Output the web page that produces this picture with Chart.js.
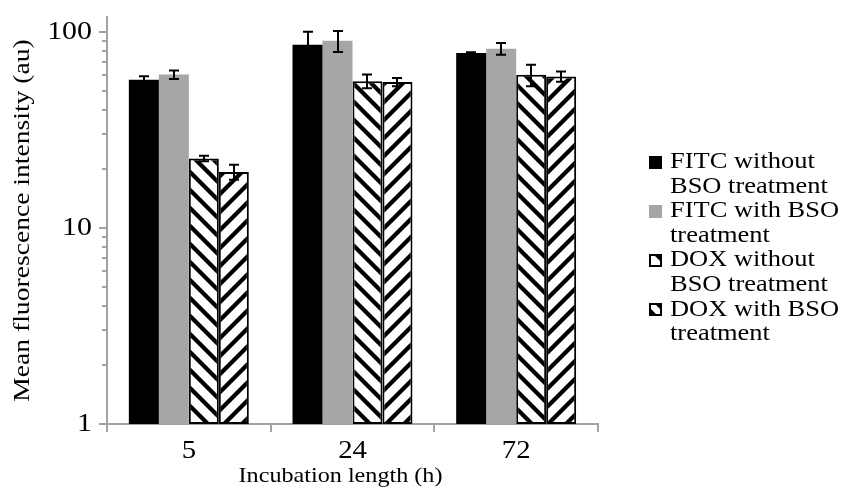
<!DOCTYPE html>
<html>
<head>
<meta charset="utf-8">
<script src="https://cdn.jsdelivr.net/npm/chart.js@4/dist/chart.umd.min.js"></script>
<style>
  html, body { margin: 0; padding: 0; background: #fff; }
  #wrap { width: 842px; height: 494px; position: relative; }
</style>
</head>
<body>
<div id="wrap"><canvas id="c" width="842" height="494"></canvas></div>
<script>
// Incubation times (h)
const categories = ['5', '24', '72'];
const xTitle = 'Incubation length (h)';
const yTitle = 'Mean fluorescence intensity (au)';

// Series names, and how each one wraps in the legend
const seriesNames = [
  'FITC without BSO treatment',
  'FITC with BSO treatment',
  'DOX without BSO treatment',
  'DOX with BSO treatment'
];
const legendLines = [
  ['FITC without', 'BSO treatment'],
  ['FITC with BSO', 'treatment'],
  ['DOX without', 'BSO treatment'],
  ['DOX with BSO', 'treatment']
];

// Mean fluorescence intensity (au) and error (±)
const fitcWithout    = [57, 86, 78];
const fitcWithoutErr = [2.4, 14, 0.7];
const fitcWith       = [60.5, 90, 82];
const fitcWithErr    = [3, 11, 5.6];
const doxWithout     = [22.6, 56, 60.4];
const doxWithoutErr  = [0.7, 4.5, 7.6];
const doxWith        = [19.3, 55.5, 59.2];
const doxWithErr     = [1.7, 2.7, 3.5];

// Log axis: labelled decades and unlabelled minor ticks
const yTickValues  = [1, 10, 100];
const yMinorValues = [2, 3, 4, 5, 6, 7, 8, 9, 20, 30, 40, 50, 60, 70, 80, 90];

const FONT = 'Liberation Serif, Times New Roman, serif';
const AXIS_GREY = '#a3a3a3';
// Type is set slightly wide along its baseline
const TEXT_STRETCH = 1.15;

function widenText(ctx) {
  const nativeFill = ctx.fillText;
  ctx.fillText = function (text, x, y, maxWidth) {
    this.save();
    this.translate(x, y);
    this.scale(TEXT_STRETCH, 1);
    if (maxWidth === undefined || maxWidth === null) nativeFill.call(this, text, 0, 0);
    else nativeFill.call(this, text, 0, 0, maxWidth / TEXT_STRETCH);
    this.restore();
  };
}

function stripePattern(dir, size, width) {
  const c = document.createElement('canvas');
  c.width = size; c.height = size;
  const g = c.getContext('2d');
  g.fillStyle = '#fff';
  g.fillRect(0, 0, size, size);
  g.strokeStyle = '#000';
  g.lineWidth = width;
  for (const o of [-size, 0, size]) {
    g.beginPath();
    if (dir === 'back') { g.moveTo(o - 3, -3); g.lineTo(o + size + 3, size + 3); }
    else { g.moveTo(o - 3, size + 3); g.lineTo(o + size + 3, -3); }
    g.stroke();
  }
  return g.createPattern(c, 'repeat');
}

const patBack = stripePattern('back', 18, 4.2);
const patFwd  = stripePattern('fwd', 18, 4.2);

const datasets = [
  { label: seriesNames[0], data: fitcWithout, errors: fitcWithoutErr,
    backgroundColor: '#000000', borderWidth: 0 },
  { label: seriesNames[1], data: fitcWith, errors: fitcWithErr,
    backgroundColor: '#a6a6a6', borderWidth: 0 },
  { label: seriesNames[2], data: doxWithout, errors: doxWithoutErr,
    backgroundColor: patBack, borderColor: '#000', borderWidth: 2, borderSkipped: false },
  { label: seriesNames[3], data: doxWith, errors: doxWithErr,
    backgroundColor: patFwd, borderColor: '#000', borderWidth: 2, borderSkipped: false }
];

// Error bars with caps, drawn from each dataset's errors array
const errorBars = {
  id: 'errorBars',
  afterDatasetsDraw(chart) {
    const ctx = chart.ctx;
    const y = chart.scales.y;
    ctx.save();
    ctx.strokeStyle = '#000';
    ctx.lineWidth = 2;
    chart.data.datasets.forEach((ds, di) => {
      const meta = chart.getDatasetMeta(di);
      meta.data.forEach((bar, i) => {
        const v = ds.data[i], e = ds.errors[i];
        const yt = y.getPixelForValue(v + e);
        const yb = y.getPixelForValue(v - e);
        const x = Math.round(bar.x);
        const hw = 5;
        ctx.beginPath();
        ctx.moveTo(x, yt); ctx.lineTo(x, yb);
        ctx.moveTo(x - hw, yt); ctx.lineTo(x + hw, yt);
        ctx.moveTo(x - hw, yb); ctx.lineTo(x + hw, yb);
        ctx.stroke();
      });
    });
    ctx.restore();
  }
};

// Short minor ticks on the log axis, and the x-axis title
const axisExtras = {
  id: 'axisExtras',
  afterDraw(chart) {
    const ctx = chart.ctx;
    const y = chart.scales.y;
    const area = chart.chartArea;
    ctx.save();
    ctx.strokeStyle = AXIS_GREY;
    ctx.lineWidth = 2;
    ctx.beginPath();
    yMinorValues.forEach(v => {
      const py = Math.round(y.getPixelForValue(v));
      ctx.moveTo(area.left - 5, py); ctx.lineTo(area.left, py);
    });
    ctx.stroke();
    ctx.fillStyle = '#000';
    ctx.font = '21px ' + FONT;
    ctx.textAlign = 'center';
    ctx.textBaseline = 'middle';
    ctx.fillText(xTitle, (area.left + area.right) / 2 - 12, 476);
    ctx.restore();
  }
};

// Legend on the right, with wrapped series names
const sideLegend = {
  id: 'sideLegend',
  afterDraw(chart) {
    const ctx = chart.ctx;
    const boxX = 649, textX = 670, box = 13;
    const top = 162, lineH = 24.6;
    ctx.save();
    ctx.font = '23px ' + FONT;
    ctx.textBaseline = 'middle';
    ctx.fillStyle = '#000';
    chart.data.datasets.forEach((ds, i) => {
      const lines = legendLines[i];
      const cy = top + i * lineH * 2;
      const bx = boxX, by = Math.round(cy - box / 2);
      if (i < 2) {
        ctx.fillStyle = ds.backgroundColor;
        ctx.fillRect(bx, by, box, box);
      } else {
        ctx.fillStyle = '#fff';
        ctx.fillRect(bx, by, box, box);
        ctx.save();
        ctx.beginPath();
        ctx.rect(bx, by, box, box);
        ctx.clip();
        ctx.fillStyle = '#000';
        ctx.beginPath();
        if (i === 2) {
          ctx.moveTo(bx + 4, by); ctx.lineTo(bx + box, by); ctx.lineTo(bx + box, by + box - 4);
        } else {
          ctx.moveTo(bx, by + 4); ctx.lineTo(bx, by + box); ctx.lineTo(bx + box - 4, by + box);
          ctx.moveTo(bx + 5, by); ctx.lineTo(bx + box, by); ctx.lineTo(bx + box, by + box - 5);
        }
        ctx.fill();
        ctx.restore();
        ctx.strokeStyle = '#000';
        ctx.lineWidth = 2;
        ctx.strokeRect(bx + 1, by + 1, box - 2, box - 2);
      }
      ctx.fillStyle = '#000';
      lines.forEach((t, k) => ctx.fillText(t, textX, cy + k * lineH));
    });
    ctx.restore();
  }
};

Chart.defaults.font.family = FONT;
Chart.defaults.font.size = 22;
Chart.defaults.color = '#000';

const canvasCtx = document.getElementById('c').getContext('2d');
widenText(canvasCtx);

new Chart(canvasCtx, {
  type: 'bar',
  data: { labels: categories, datasets },
  options: {
    responsive: false,
    animation: false,
    events: [],
    layout: { padding: { top: 17, right: 244, left: 0, bottom: 0 } },
    datasets: { bar: { categoryPercentage: 0.733, barPercentage: 1.0 } },
    plugins: { legend: { display: false }, tooltip: { enabled: false } },
    scales: {
      x: {
        grid: { drawOnChartArea: false, offset: true, color: AXIS_GREY, lineWidth: 2, tickLength: 8 },
        border: { color: AXIS_GREY, width: 2 },
        ticks: { padding: 4, font: { size: 25 } },
        title: { display: false, text: xTitle },
        afterFit(s) { s.height = 70; s.paddingLeft = 0; s.paddingRight = 0; }
      },
      y: {
        type: 'logarithmic',
        min: 1,
        max: 119,
        grid: { drawOnChartArea: false, color: AXIS_GREY, lineWidth: 2, tickLength: 8 },
        border: { color: AXIS_GREY, width: 2 },
        afterBuildTicks(s) { s.ticks = yTickValues.map(v => ({ value: v, major: true })); },
        ticks: { padding: 7, autoSkip: false, font: { size: 26 }, callback: v => String(v) },
        title: { display: true, text: yTitle, font: { size: 24 }, padding: { top: 8, bottom: 0 } },
        afterFit(s) { s.width = 107; s.paddingTop = 0; s.paddingBottom = 0; }
      }
    }
  },
  plugins: [errorBars, axisExtras, sideLegend]
});
</script>
</body>
</html>
